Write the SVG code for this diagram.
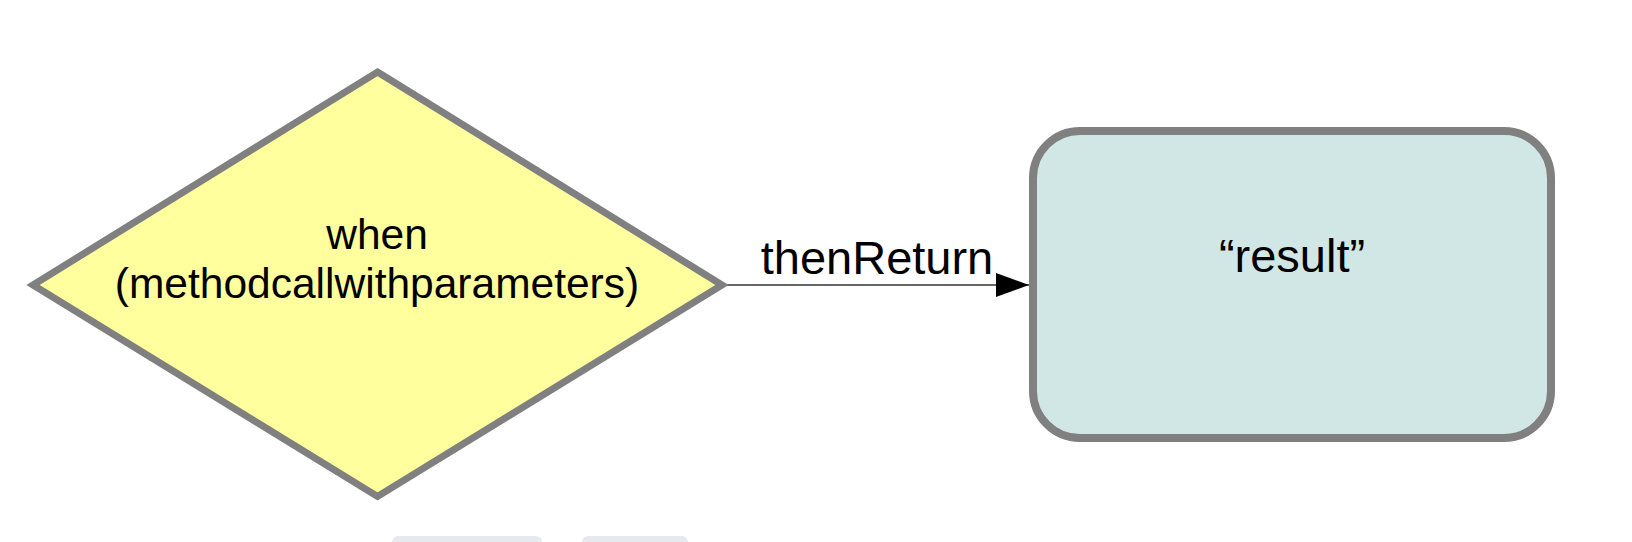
<svg xmlns="http://www.w3.org/2000/svg" width="1632" height="542" viewBox="0 0 1632 542">
  <defs>
    <style>
      .shape { stroke: #808080; stroke-linejoin: miter; }
      .label { font-family: "Liberation Sans", Arial, sans-serif; fill: #000000; text-anchor: middle; }
      .edge { stroke: #333333; stroke-width: 1.5; fill: none; }
    </style>
    <marker id="arrow" markerUnits="userSpaceOnUse" markerWidth="34" markerHeight="24" refX="33" refY="12" orient="auto">
      <path d="M0,0 L33,12 L0,24 Z" fill="#000000"/>
    </marker>
  </defs>
  <rect width="1632" height="542" fill="#ffffff"/>
  <g id="ui-bar">
    <rect x="392" y="536" width="150" height="20" rx="6" fill="#e8e9ee"/>
    <rect x="582" y="536" width="106" height="20" rx="6" fill="#e8e9ee"/>
  </g>
  <g id="connectors">
    <line class="edge" x1="726" y1="285" x2="1029" y2="285" marker-end="url(#arrow)"/>
    <text class="label" x="877" y="274" font-size="47">thenReturn</text>
  </g>
  <g id="node-when">
    <polygon class="shape" stroke-width="7" fill="#ffff9e" points="377.5,72 722,285 377.5,496.5 33,285"/>
    <text class="label" x="377" y="249" font-size="42.5">when</text>
    <text class="label" x="377" y="298" font-size="42.5">(methodcallwithparameters)</text>
  </g>
  <g id="node-result">
    <rect class="shape" stroke-width="8" fill="#d1e7e5" x="1033" y="131" width="518" height="307" rx="47" ry="47"/>
    <text class="label" x="1292" y="272" font-size="47">“result”</text>
  </g>
</svg>
